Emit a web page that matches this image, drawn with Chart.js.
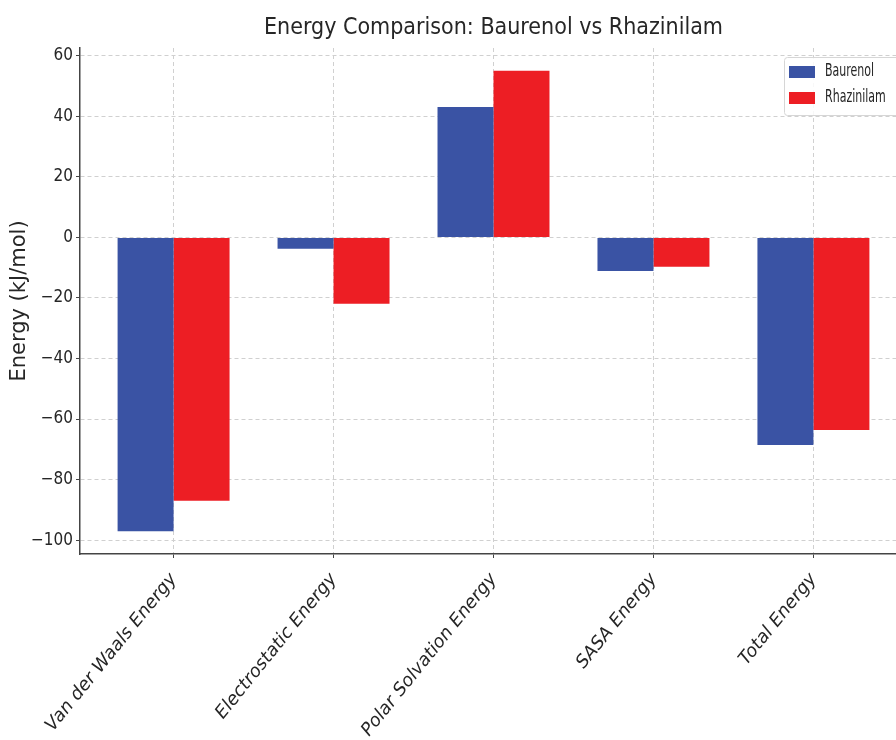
<!DOCTYPE html>
<html>
<head>
<meta charset="utf-8">
<script src="https://cdn.jsdelivr.net/npm/chart.js@4/dist/chart.umd.min.js"></script>
<style>
  html, body { margin: 0; padding: 0; background: #fff; overflow: hidden; }
  #wrap { width: 910px; height: 740px; }
</style>
</head>
<body>
<div id="wrap"><canvas id="energyChart" width="910" height="740"></canvas></div>
<script>
// Data
const categories = ['Van der Waals Energy', 'Electrostatic Energy', 'Polar Solvation Energy', 'SASA Energy', 'Total Energy'];
const baurenol = [-97.1, -3.7, 43.1, -11.1, -68.6];
const rhazinilam = [-87.0, -21.9, 55.1, -9.7, -63.6];
const yTicks = [-100, -80, -60, -40, -20, 0, 20, 40, 60];

const FONT = '"DejaVu Sans Condensed", "Liberation Sans Narrow", "DejaVu Sans", sans-serif';
const TEXT = '#262626';

// Title centred over the plot area, like matplotlib does it
const titlePlugin = {
    id: 'axesTitle',
    afterDraw(chart) {
        const { ctx, chartArea } = chart;
        ctx.save();
        ctx.font = '23px ' + FONT;
        ctx.fillStyle = TEXT;
        ctx.textAlign = 'center';
        ctx.textBaseline = 'middle';
        ctx.fillText('Energy Comparison: Baurenol vs Rhazinilam', (chartArea.left + chartArea.right) / 2, 28);
        ctx.restore();
    }
};

// Boxed legend in the upper right corner of the plot area
const boxLegend = {
    id: 'boxLegend',
    afterDraw(chart) {
        const { ctx } = chart;
        const x = 784, y = 57, w = 130, h = 58;
        ctx.save();
        ctx.fillStyle = 'rgba(255,255,255,0.85)';
        ctx.strokeStyle = '#d6d6d6';
        ctx.lineWidth = 1;
        ctx.beginPath();
        ctx.roundRect(x + 0.5, y + 0.5, w, h, 3);
        ctx.fill();
        ctx.stroke();
        ctx.font = '17px ' + FONT;
        ctx.textBaseline = 'middle';
        chart.data.datasets.forEach((ds, i) => {
            const cy = y + 15 + i * 26;
            ctx.fillStyle = ds.backgroundColor;
            ctx.fillRect(x + 5, cy - 6, 26, 12);
            // the reference text is squeezed sideways
            ctx.save();
            ctx.translate(x + 41, cy);
            ctx.scale(0.72, 1);
            ctx.fillStyle = TEXT;
            ctx.fillText(ds.label, 0, 0);
            ctx.restore();
        });
        ctx.restore();
    }
};

new Chart(document.getElementById('energyChart'), {
    type: 'bar',
    data: {
        datasets: [{
            label: 'Baurenol',
            data: baurenol.map((v, i) => ({ x: i, y: v })),
            backgroundColor: '#3a53a4'
        }, {
            label: 'Rhazinilam',
            data: rhazinilam.map((v, i) => ({ x: i, y: v })),
            backgroundColor: '#ed1e24'
        }]
    },
    options: {
        responsive: false,
        animation: false,
        categoryPercentage: 0.7,
        barPercentage: 1.0,
        layout: { padding: { top: 48, right: 3, left: 0, bottom: 0 } },
        plugins: {
            legend: { display: false },
            title: { display: false },
            tooltip: { enabled: false }
        },
        scales: {
            x: {
                type: 'linear',
                offset: false,
                min: -0.585,
                max: 4.585,
                afterBuildTicks: (scale) => { scale.ticks = categories.map((c, i) => ({ value: i })); },
                afterFit: (scale) => { scale.height = 186; },
                ticks: {
                    callback: (v) => categories[v],
                    minRotation: 51,
                    maxRotation: 51,
                    autoSkip: false,
                    color: TEXT,
                    padding: 11,
                    font: { family: '"DejaVu Sans", sans-serif', size: 18, style: 'italic' }
                },
                grid: { offset: false, color: '#d0d0d0', tickColor: '#444', tickLength: 4, tickBorderDash: [] },
                border: { color: '#444', width: 1.5, dash: [4, 3] }
            },
            y: {
                min: -104.6,
                max: 62.6,
                afterBuildTicks: (scale) => { scale.ticks = yTicks.map(v => ({ value: v })); },
                afterFit: (scale) => { scale.width = 80; },
                ticks: {
                    callback: (v) => String(v).replace('-', '\u2212'),
                    color: TEXT,
                    padding: 3,
                    font: { family: FONT, size: 17 }
                },
                grid: { color: '#d0d0d0', tickColor: '#444', tickLength: 4, tickBorderDash: [] },
                border: { color: '#444', width: 1.5, dash: [4, 3] },
                title: {
                    display: true,
                    text: 'Energy (kJ/mol)',
                    color: TEXT,
                    padding: { top: 7, bottom: 0 },
                    font: { family: '"DejaVu Sans", sans-serif', size: 21 }
                }
            }
        }
    },
    plugins: [titlePlugin, boxLegend]
});
</script>
</body>
</html>
